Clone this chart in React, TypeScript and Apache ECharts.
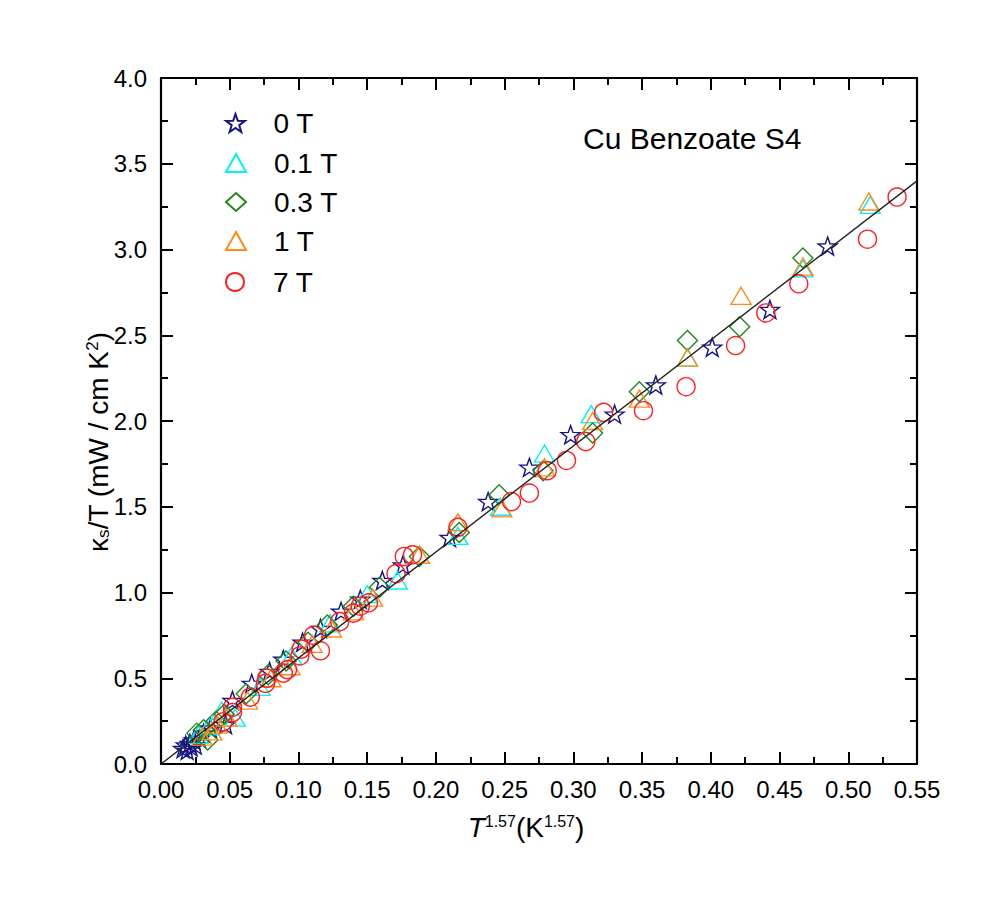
import React, { useEffect, useRef } from "react";
import * as echarts from "echarts";

// ---- Data (x = T^1.57, y = kappa_s/T) ----
const seriesNames = ["0 T", "0.1 T", "0.3 T", "1 T", "7 T"];

const data0T: number[][] = [
  [0.016, 0.09], [0.018, 0.11], [0.019, 0.08], [0.021, 0.12], [0.022, 0.10],
  [0.024, 0.14], [0.025, 0.11], [0.028, 0.15], [0.031, 0.18], [0.036, 0.21],
  [0.047, 0.23], [0.052, 0.37], [0.066, 0.47], [0.079, 0.54], [0.089, 0.61],
  [0.103, 0.71], [0.116, 0.79], [0.131, 0.89], [0.145, 0.96], [0.161, 1.07],
  [0.176, 1.16], [0.210, 1.32], [0.238, 1.53], [0.268, 1.73], [0.298, 1.92],
  [0.330, 2.04], [0.360, 2.21], [0.401, 2.43], [0.443, 2.65], [0.485, 3.02],
];
const data01T: number[][] = [
  [0.027, 0.17], [0.035, 0.22], [0.044, 0.31], [0.054, 0.27], [0.072, 0.45],
  [0.095, 0.63], [0.123, 0.82], [0.150, 0.99], [0.172, 1.07], [0.216, 1.33],
  [0.247, 1.50], [0.279, 1.81], [0.313, 2.04], [0.383, 2.37], [0.467, 2.89],
  [0.516, 3.26],
];
const data03T: number[][] = [
  [0.026, 0.18], [0.031, 0.20], [0.034, 0.14], [0.040, 0.25], [0.046, 0.29],
  [0.062, 0.41], [0.078, 0.52], [0.091, 0.60], [0.107, 0.71], [0.121, 0.81],
  [0.140, 0.92], [0.159, 1.03], [0.188, 1.21], [0.217, 1.35], [0.246, 1.57],
  [0.278, 1.71], [0.314, 1.93], [0.348, 2.17], [0.383, 2.47], [0.421, 2.55],
  [0.467, 2.95],
];
const data1T: number[][] = [
  [0.030, 0.16], [0.037, 0.19], [0.041, 0.23], [0.048, 0.27], [0.063, 0.37],
  [0.080, 0.50], [0.094, 0.57], [0.110, 0.70], [0.124, 0.79], [0.140, 0.89],
  [0.154, 0.97], [0.188, 1.22], [0.216, 1.41], [0.248, 1.49], [0.279, 1.73],
  [0.314, 2.00], [0.348, 2.13], [0.383, 2.37], [0.422, 2.73], [0.467, 2.90],
  [0.515, 3.28],
];
const data7T: number[][] = [
  [0.045, 0.245], [0.052, 0.30], [0.052, 0.33], [0.065, 0.39], [0.076, 0.47],
  [0.077, 0.50], [0.089, 0.53], [0.092, 0.55], [0.101, 0.63], [0.102, 0.67],
  [0.111, 0.75], [0.116, 0.66], [0.130, 0.83], [0.140, 0.88], [0.145, 0.92],
  [0.151, 0.94], [0.171, 1.11], [0.177, 1.21], [0.183, 1.22], [0.216, 1.38],
  [0.255, 1.53], [0.268, 1.58], [0.281, 1.71], [0.295, 1.77], [0.309, 1.88],
  [0.322, 2.05], [0.351, 2.06], [0.382, 2.20], [0.418, 2.44], [0.440, 2.63],
  [0.464, 2.80], [0.514, 3.06], [0.5355, 3.306],
];
const fitLine: number[][] = [
  [0, 0],
  [0.55, 3.4],
];

const xTicks = { min: 0, max: 0.55, interval: 0.05 };
const yTicks = { min: 0, max: 4.0, interval: 0.5 };

const FONT = "'Liberation Sans', Arial, Helvetica, sans-serif";
const STAR =
  "path://M0,-10 L2.35,-3.24 L9.51,-3.09 L3.8,1.24 L5.88,8.09 L0,4 L-5.88,8.09 L-3.8,1.24 L-9.51,-3.09 L-2.35,-3.24 Z";

const styles = [
  { symbol: STAR, size: [19, 18], color: "#141484" },
  { symbol: "triangle", size: [20, 17], color: "#00f4f4" },
  { symbol: "diamond", size: [20, 20], color: "#23881c" },
  { symbol: "triangle", size: [20, 17], color: "#ff8c1a" },
  { symbol: "circle", size: [18, 18], color: "#ff1e1e" },
];
const allData = [data0T, data01T, data03T, data1T, data7T];
const legendRows = [123, 163, 202, 241, 282];

export default function App() {
  const ref = useRef<HTMLDivElement>(null);
  useEffect(() => {
    if (!ref.current) return;
    const chart = echarts.init(ref.current, undefined, { renderer: "svg" });

    const axisCommon = {
      axisLine: { show: true, onZero: false, lineStyle: { color: "#000", width: 2.2 } },
      axisTick: { show: true, inside: true, length: 12, lineStyle: { color: "#000", width: 2 } },
      minorTick: { show: true, splitNumber: 2, length: 7, lineStyle: { color: "#000", width: 2 } },
      splitLine: { show: false },
    };

    const scatterSeries = allData.map((d, i) => ({
      name: seriesNames[i],
      type: "scatter",
      data: d,
      symbol: styles[i].symbol,
      symbolSize: styles[i].size,
      itemStyle: {
        color: "rgba(0,0,0,0)",
        borderColor: styles[i].color,
        borderWidth: 1.4,
        opacity: 1,
      },
      z: 2 + i,
    }));

    const legends = seriesNames.map((n, i) => ({
      show: true,
      selectedMode: false,
      orient: "vertical",
      left: 220,
      top: legendRows[i] - 20,
      itemWidth: 20,
      itemHeight: 18,
      data: [{ name: n }],
      textStyle: {
        fontSize: 28,
        fontFamily: FONT,
        color: "#000",
        lineHeight: 30,
        padding: [0, 0, 0, 23],
      },
    }));

    chart.setOption({
      animation: false,
      backgroundColor: "#fff",
      grid: { left: 161, top: 78, width: 756, height: 686, containLabel: false },
      legend: legends,
      xAxis: [
        {
          type: "value",
          position: "bottom",
          ...xTicks,
          ...axisCommon,
          axisLabel: {
            fontSize: 24,
            fontFamily: FONT,
            color: "#000",
            margin: 13,
            formatter: (v: number) => v.toFixed(2),
          },
        },
        {
          type: "value",
          position: "top",
          ...xTicks,
          ...axisCommon,
          axisLabel: { show: false },
        },
      ],
      yAxis: [
        {
          type: "value",
          position: "left",
          ...yTicks,
          ...axisCommon,
          axisLabel: {
            fontSize: 24,
            fontFamily: FONT,
            color: "#000",
            margin: 14,
            formatter: (v: number) => v.toFixed(1),
          },
        },
        {
          type: "value",
          position: "right",
          ...yTicks,
          ...axisCommon,
          axisLabel: { show: false },
        },
      ],
      series: [
        ...scatterSeries,
        {
          name: "fit",
          type: "line",
          data: fitLine,
          symbol: "none",
          lineStyle: { color: "#222", width: 1.4 },
          z: 10,
          silent: true,
        },
      ],
      graphic: [
        {
          type: "text",
          x: 583,
          y: 138,
          style: {
            text: "Cu Benzoate S4",
            fontSize: 30,
            fontFamily: FONT,
            fill: "#000",
            align: "left",
            verticalAlign: "middle",
          },
        },
        {
          type: "text",
          x: 526,
          y: 827,
          style: {
            text: "{i|T}{sup|1.57}{n|(K}{sup|1.57}{n|)}",
            align: "center",
            verticalAlign: "middle",
            fill: "#000",
            rich: {
              i: { fontSize: 28, fontFamily: FONT, fontStyle: "italic", fill: "#000" },
              n: { fontSize: 28, fontFamily: FONT, fill: "#000" },
              sup: { fontSize: 16, fontFamily: FONT, fill: "#000", verticalAlign: "top" },
            },
          },
        },
        {
          type: "text",
          x: 98,
          y: 442,
          rotation: Math.PI / 2,
          style: {
            text: "{n|κ}{sub|s}{n|/T (mW / cm K}{sup|2}{n|)}",
            align: "center",
            verticalAlign: "middle",
            fill: "#000",
            rich: {
              n: { fontSize: 28, fontFamily: FONT, fill: "#000" },
              sub: { fontSize: 17, fontFamily: FONT, fill: "#000", verticalAlign: "bottom", padding: [8, 0, 0, 0] },
              sup: { fontSize: 17, fontFamily: FONT, fill: "#000", verticalAlign: "top" },
            },
          },
        },
      ],
    });
    return () => chart.dispose();
  }, []);
  return (
    <div
      ref={ref}
      style={{ position: "absolute", left: 0, top: 0, width: 1001, height: 907 }}
    />
  );
}
